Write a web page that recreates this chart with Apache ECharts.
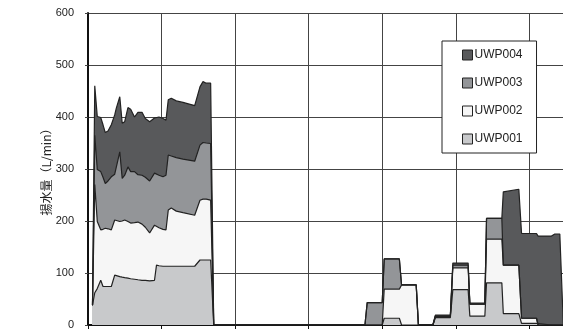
<!DOCTYPE html>
<html>
<head>
<meta charset="utf-8">
<script src="https://cdn.jsdelivr.net/npm/echarts@6/dist/echarts.min.js"></script>
<style>
html,body{margin:0;padding:0;background:#fff;}
#c{width:563px;height:333px;}
</style>
</head>
<body>
<div id="c"></div>
<script>
// x positions (time units; one grid interval = 10)
const xs = [0.61,0.92,1.26,1.73,2.04,2.35,2.72,3.17,3.63,3.85,4.32,4.65,4.99,5.43,5.80,6.32,6.79,7.34,7.79,8.38,
  9.04,9.31,9.65,10.19,10.60,10.91,11.32,12.00,12.91,14.50,15.22,15.63,16.07,16.67,17.09,
  37.64,37.95,39.99,40.26,42.32,42.62,44.61,44.91,46.88,47.21,49.25,49.59,51.67,51.90,53.94,54.17,56.25,56.45,
  58.56,58.93,60.96,61.18,63.00,63.45,64.13,64.61];

const uwp001 = [38,62,70,86,74,74,74,74,96,95,93,92,91,90,89,88,87,86,86,85,
  86,115,114,113,113,113,113,113,113,113,125,125,125,125,0,
  0,0,0,13,13,0,0,0,0,14,14,68,68,17,17,81,81,22,22,3,3,0,0,0,0,0];
const uwp002 = [0,208,129,97,110,112,111,109,106,106,106,108,111,109,107,109,111,108,102,92,
  106,78,73,71,70,108,112,106,103,98,115,117,117,115,0,
  0,0,0,56,56,77,77,0,0,2,2,42,42,23,23,84,84,93,93,10,10,0,0,0,0,0];
const uwp003 = [0,95,100,112,100,86,92,102,88,91,134,82,86,105,99,98,91,94,96,100,
  100,97,101,101,105,106,100,103,103,104,106,109,108,109,0,
  0,43,43,58,58,0,0,0,0,1,1,5,5,0,0,40,40,0,0,0,0,0,0,0,0,0];
const uwp004 = [0,95,102,104,101,98,96,100,114,125,106,106,103,114,120,105,120,121,113,114,
  106,111,112,112,106,106,111,109,109,107,112,117,115,116,0,
  0,0,0,0,0,0,0,0,0,2,2,4,4,2,2,0,0,141,146,163,163,171,171,175,175,0];

const seriesNames = ['UWP001','UWP002','UWP003','UWP004'];
const seriesValues = [uwp001, uwp002, uwp003, uwp004];
const fills = ['#c8c9cb','#f6f6f6','#939598','#58595b'];
const yTicks = [0,100,200,300,400,500,600];

// cumulative (stacked) totals, drawn top layer first so lower layers paint over it
const cumulative = [];
seriesValues.forEach((vals, i) => {
  cumulative.push(vals.map((v, k) => v + (i > 0 ? cumulative[i - 1][k] : 0)));
});

const series = [];
for (let i = seriesNames.length - 1; i >= 0; i--) {
  series.push({
    name: seriesNames[i],
    type: 'line',
    symbol: 'none',
    smooth: false,
    data: xs.map((x, k) => [x, cumulative[i][k]]),
    itemStyle: {color: fills[i]},
    lineStyle: {color: '#222', width: 1.2},
    areaStyle: {color: fills[i], opacity: 1, origin: 'start'}
  });
}

const chart = echarts.init(document.getElementById('c'));
chart.setOption({
  animation: false,
  backgroundColor: '#fff',
  grid: {left: 88, top: 13, width: 515, bottom: 8, containLabel: false, outerBoundsMode: 'none'},
  legend: {
    data: seriesNames.slice().reverse(),
    orient: 'vertical',
    left: 442, top: 41,
    padding: [8, 14, 8, 20],
    itemGap: 16,
    itemWidth: 10, itemHeight: 10,
    icon: 'rect',
    itemStyle: {borderColor: '#222', borderWidth: 1},
    backgroundColor: '#fff',
    borderColor: '#222', borderWidth: 1, borderRadius: 0,
    textStyle: {fontFamily: 'Liberation Sans', fontSize: 12, color: '#222', padding: [0,0,0,-3]}
  },
  xAxis: {
    type: 'value', min: 0, max: 70, interval: 10,
    axisLine: {show: true, onZero: false, lineStyle: {color: '#111', width: 2}},
    axisTick: {show: true, length: 4, lineStyle: {color: '#111'}},
    axisLabel: {show: false},
    splitLine: {show: true, lineStyle: {color: '#444', width: 1}}
  },
  yAxis: {
    type: 'value', min: yTicks[0], max: yTicks[yTicks.length-1], interval: 100,
    name: '揚水量（L/min）',
    nameLocation: 'middle', nameGap: 36, nameMoveOverlap: false,
    nameTextStyle: {fontFamily: 'Noto Sans CJK JP', fontSize: 12, color: '#222'},
    axisLine: {show: true, lineStyle: {color: '#111', width: 2}},
    axisTick: {show: true, length: 3, lineStyle: {color: '#444'}},
    axisLabel: {margin: 14, fontFamily: 'Liberation Sans', fontSize: 11, color: '#222'},
    splitLine: {show: true, lineStyle: {color: '#444', width: 1}}
  },
  series: series
});
</script>
</body>
</html>
